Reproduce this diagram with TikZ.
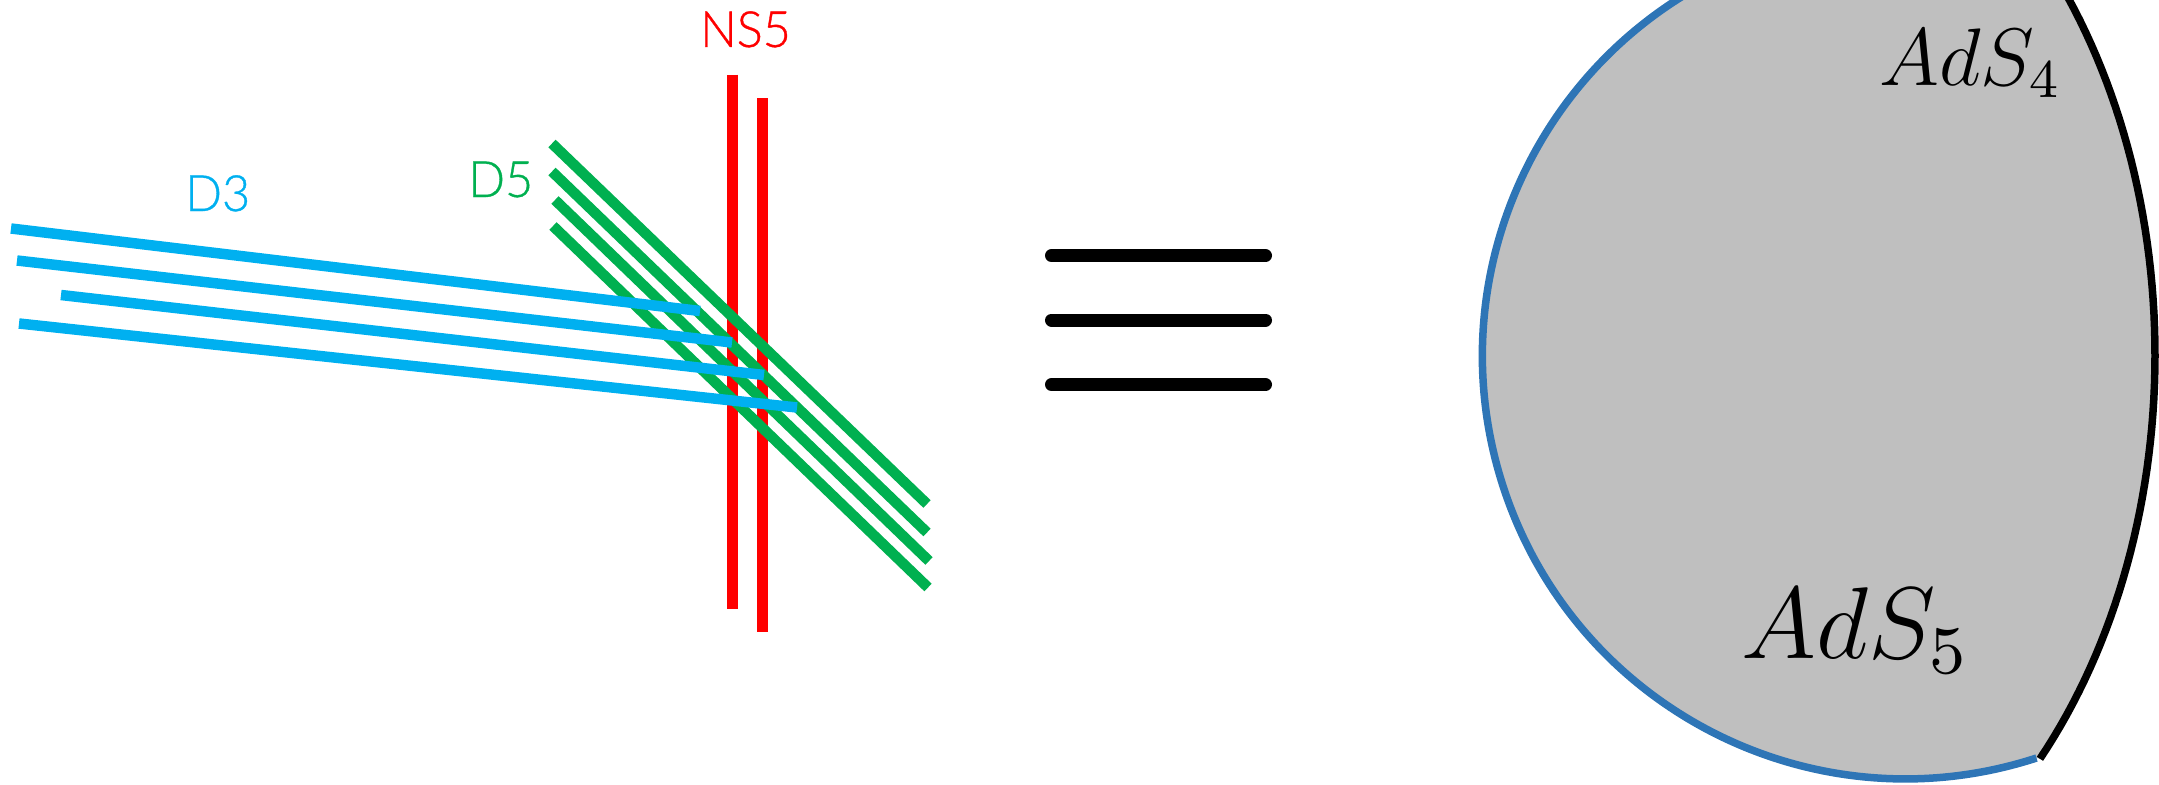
\documentclass[tikz,border=0pt]{standalone}
\usepackage{fontspec}
\setmainfont{Carlito}
\newfontfamily\lightf[FakeStretch=0.97,FakeBold=0.7]{Lato Light}
\definecolor{dred}{HTML}{FF0000}
\definecolor{dgreen}{HTML}{00B050}
\definecolor{dblue}{HTML}{00B0F0}
\definecolor{arcblue}{HTML}{2E75B6}
\definecolor{bulk}{HTML}{BFBFBF}
\tikzset{
  redline/.style={draw=dred,line width=10.5pt},
  greenline/.style={draw=dgreen,line width=10.5pt},
  blueline/.style={draw=dblue,line width=10.5pt},
  barline/.style={draw=black,line width=13pt,line cap=round},
  lab/.style={font=\lightf\fontsize{50}{60}\selectfont,inner sep=0pt,anchor=base west},
  mlab/.style={font=\large,inner sep=0pt,anchor=base west}
}
\begin{document}
\begin{tikzpicture}[x=1pt,y=-1pt]
\useasboundingbox (0,0) rectangle (2159,784);
\clip (0,0) rectangle (2159,784);
% region
\path[fill=bulk] (2036.5,758) arc[start angle=71.95,end angle=300,radius=423]
  -- plot[domain=-38:42.3,samples=60] ({1713+442*cos(\x)},{355+600*sin(\x)}) -- cycle;
\draw[arcblue,line width=7.5pt] (2036.5,758) arc[start angle=71.95,end angle=300,radius=423];
\draw[black,line width=7.5pt] plot[domain=-38:42.3,samples=60] ({1713+442*cos(\x)},{355+600*sin(\x)});
% red
\draw[redline] (732.5,74.5) -- (732.5,609);
\draw[redline] (762.5,98) -- (762.5,632);
% green
\draw[greenline] (552,143.5) -- (927,504);
\draw[greenline] (552,171.5) -- (927,532.5);
\draw[greenline] (555,200) -- (929,561);
\draw[greenline] (553,226) -- (928,587.5);
% blue
\draw[blueline] (11,228.5) -- (700,311);
\draw[blueline] (17,260.5) -- (732,342.5);
\draw[blueline] (61,295) -- (764,375);
\draw[blueline] (19,323.5) -- (797,407.5);
% equals
\draw[barline] (1051.5,255.7) -- (1265.5,255.7);
\draw[barline] (1051.5,320) -- (1265.5,320);
\draw[barline] (1051.5,384.7) -- (1265.5,384.7);
% labels
\node[lab,text=dred] (ns) at (700,47) {NS5};
\node[lab,text=dblue] (dthree) at (185,211) {D3};
\node[lab,text=dgreen] (dfive) at (468,197) {D5};
\node[mlab,scale=6.8] (adsfour) at (1878,85) {$AdS_4$};
\node[mlab,scale=8.5] (adsfive) at (1740,658) {$AdS_5$};
\end{tikzpicture}
\end{document}
